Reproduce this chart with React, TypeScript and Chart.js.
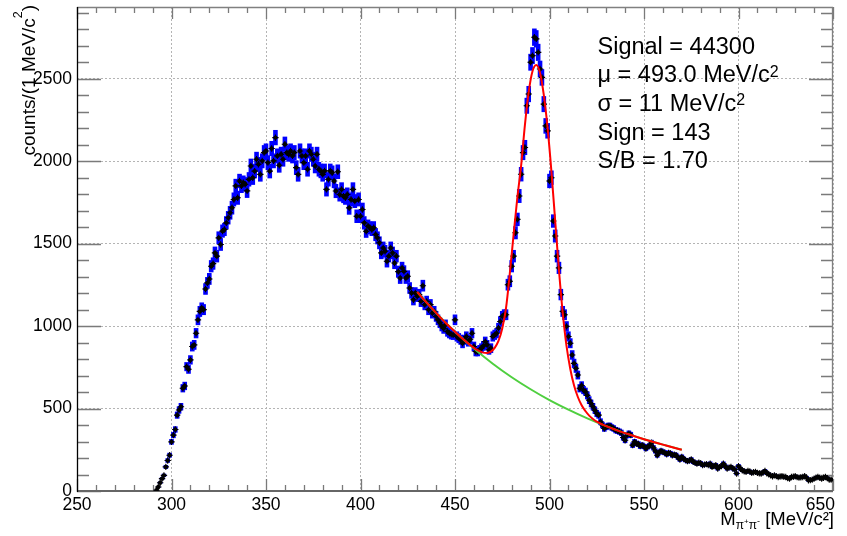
import React, { useEffect, useRef } from "react";
import { Chart, registerables } from "chart.js";

Chart.register(...registerables);

// ---------------- data ----------------
const MASS_START = 292; // first bin centre, MeV/c^2 (1 MeV bins)
const COUNTS = [
  5, 24, 50, 75, 95, 146, 185, 217,
  298, 339, 373, 460, 491, 511, 623, 637, 754, 738,
  795, 876, 886, 957, 1038, 1089, 1110, 1100, 1225, 1262,
  1286, 1363, 1379, 1444, 1424, 1535, 1495, 1576, 1586, 1626,
  1657, 1687, 1718, 1768, 1850, 1778, 1880, 1850, 1870, 1860,
  1820, 1890, 1971, 1900, 1940, 2012, 1981, 1920, 2002, 2052,
  2062, 1991, 1940, 2077, 2002, 2143, 2032, 1975, 2042, 2012,
  2103, 2052, 2042, 2062, 2032, 2052, 1961, 1920, 2062, 2032,
  1991, 2032, 1951, 2062, 2042, 2012, 1971, 2042, 1951, 1941,
  1920, 1941, 1829, 1890, 1941, 1930, 1880, 1819, 1936, 1798,
  1829, 1788, 1778, 1798, 1717, 1768, 1829, 1758, 1666, 1768,
  1666, 1707, 1626, 1575, 1606, 1596, 1586, 1596, 1555, 1535,
  1505, 1444, 1474, 1454, 1393, 1424, 1474, 1444, 1383, 1424,
  1330, 1292, 1353, 1332, 1292, 1302, 1231, 1201, 1160, 1201,
  1181, 1191, 1150, 1245, 1130, 1150, 1100, 1130, 1079, 1089,
  1059, 1038, 1020, 1000, 985, 1008, 967, 957, 950, 947,
  1038, 937, 927, 917, 896, 917, 937, 906, 920, 957,
  876, 846, 846, 856, 866, 880, 906, 886, 856, 866,
  937, 947, 957, 988, 1028, 1059, 1069, 1069, 1251, 1272,
  1363, 1424, 1566, 1647, 1789, 1921, 2052, 2083, 2336, 2407,
  2600, 2640, 2752, 2742, 2660, 2559, 2508, 2346, 2214, 2184,
  1880, 1900, 1637, 1546, 1424, 1353, 1191, 1089, 1069, 998,
  937, 896, 825, 774, 744, 703, 623, 640, 612, 602,
  580, 551, 531, 511, 490, 470, 460, 420, 400, 379,
  389, 394, 394, 385, 379, 369, 365, 360, 353, 324,
  308, 338, 348, 340, 278, 298, 288, 285, 272, 278,
  270, 258, 268, 275, 293, 262, 243, 217, 235, 243,
  237, 232, 223, 231, 228, 217, 220, 217, 203, 191,
  207, 195, 187, 181, 185, 191, 177, 172, 166, 171,
  168, 157, 160, 163, 158, 166, 146, 152, 157, 136,
  145, 151, 166, 150, 136, 142, 146, 136, 130, 106,
  151, 135, 126, 120, 116, 122, 118, 110, 114, 116,
  110, 108, 106, 112, 122, 108, 102, 95, 89, 95,
  90, 85, 88, 89, 86, 85, 78, 75, 85, 86,
  89, 84, 81, 83, 85, 89, 82, 65, 66, 69,
  75, 81, 85, 80, 75, 80, 85, 78, 69, 69,
];

// total fit (signal + background)
const TOTAL_FIT_X = [430, 435, 440, 445, 450, 455, 460, 463, 465, 467, 469, 471, 473, 475, 477, 479, 481, 483, 485, 487, 489, 491, 493, 495, 497, 499, 501, 503, 505, 507, 509, 511, 513, 515, 517, 519, 521, 523, 525, 530, 535, 540, 545, 550, 555, 560, 565, 570];
const TOTAL_FIT_Y = [1207, 1142, 1080, 1020, 966, 914, 868, 848, 839, 837, 845, 868, 910, 985, 1110, 1320, 1555, 1780, 1975, 2220, 2420, 2545, 2583, 2535, 2400, 2200, 1940, 1640, 1340, 1080, 880, 740, 640, 570, 520, 485, 457, 437, 421, 393, 371, 351, 332, 314, 297, 281, 265, 250];

// background fit
const BKG_FIT_X = [430, 440, 450, 460, 470, 480, 490, 500, 510, 520, 530, 540, 550, 560, 570];
const BKG_FIT_Y = [1207, 1080, 966, 864, 772, 690, 617, 551, 493, 440, 393, 351, 314, 281, 250];

const X_TICKS = [250, 300, 350, 400, 450, 500, 550, 600, 650];
const Y_TICKS = [0, 500, 1000, 1500, 2000, 2500];
const X_MIN = 250;
const X_MAX = 650;
const Y_MAX = 2935;

const STAT_NAMES = ["Signal", "\u03bc", "\u03c3", "Sign", "S/B"];
const STAT_VALUES = ["44300", "493.0", "11", "143", "1.70"];
const STAT_UNITS = ["", "MeV/c", "MeV/c", "", ""];

const FONT = '"Liberation Sans", Arial, Helvetica, sans-serif';

type Seg = { t: string; size: number; dy?: number };

function segWidth(ctx: CanvasRenderingContext2D, segs: Seg[]) {
  let w = 0;
  for (const s of segs) {
    ctx.font = `${s.size}px ${FONT}`;
    w += ctx.measureText(s.t).width;
  }
  return w;
}

function drawSegs(ctx: CanvasRenderingContext2D, segs: Seg[], x: number, y: number) {
  let cx = x;
  for (const s of segs) {
    ctx.font = `${s.size}px ${FONT}`;
    ctx.fillText(s.t, cx, y + (s.dy || 0));
    cx += ctx.measureText(s.t).width;
  }
}

export default function App() {
  const ref = useRef<HTMLCanvasElement>(null);

  useEffect(() => {
    document.body.style.margin = "0";
    document.body.style.overflow = "hidden";
    const canvas = ref.current;
    if (!canvas) return;

    const points = COUNTS.map((v, i) => ({ x: MASS_START + i, y: v }));
    const totalFit = TOTAL_FIT_X.map((x, i) => ({ x, y: TOTAL_FIT_Y[i] }));
    const bkgFit = BKG_FIT_X.map((x, i) => ({ x, y: BKG_FIT_Y[i] }));

    const framePlugin = {
      id: "frame",
      beforeDatasetsDraw(chart: any) {
        const { ctx, chartArea: a, scales } = chart;
        const xs = scales.x;
        const ys = scales.y;
        ctx.save();
        ctx.strokeStyle = "#7a7a7a";
        ctx.lineWidth = 1.3;
        ctx.beginPath();
        for (let v = X_MIN; v <= X_MAX; v += 10) {
          const px = Math.round(xs.getPixelForValue(v)) + 0.5;
          const len = v % 50 === 0 ? 12 : 6;
          ctx.moveTo(px, a.bottom);
          ctx.lineTo(px, a.bottom - len);
          ctx.moveTo(px, a.top);
          ctx.lineTo(px, a.top + len);
        }
        for (let v = 0; v <= Y_MAX; v += 100) {
          const py = Math.round(ys.getPixelForValue(v)) + 0.5;
          const len = v % 500 === 0 ? 24 : 12;
          ctx.moveTo(a.left, py);
          ctx.lineTo(a.left + len, py);
          ctx.moveTo(a.right, py);
          ctx.lineTo(a.right - len, py);
        }
        ctx.stroke();
        // frame
        ctx.strokeStyle = "#808080";
        ctx.lineWidth = 1.3;
        ctx.beginPath();
        ctx.moveTo(a.left, a.top + 0.5);
        ctx.lineTo(a.right, a.top + 0.5);
        ctx.moveTo(a.right - 0.5, a.top);
        ctx.lineTo(a.right - 0.5, a.bottom);
        ctx.stroke();
        ctx.strokeStyle = "#666";
        ctx.lineWidth = 2;
        ctx.beginPath();
        ctx.moveTo(a.left, a.bottom);
        ctx.lineTo(a.right, a.bottom);
        ctx.stroke();
        ctx.strokeStyle = "#000";
        ctx.lineWidth = 1.3;
        ctx.beginPath();
        ctx.moveTo(a.left + 0.5, a.top);
        ctx.lineTo(a.left + 0.5, a.bottom + 1);
        ctx.stroke();
        ctx.restore();
      },
    };

    const errorBarPlugin = {
      id: "errorBars",
      beforeDatasetsDraw(chart: any) {
        const { ctx, chartArea: a, scales } = chart;
        const xs = scales.x;
        const ys = scales.y;
        ctx.save();
        ctx.beginPath();
        ctx.rect(a.left, a.top, a.right - a.left, a.bottom - a.top);
        ctx.clip();
        ctx.fillStyle = "#0000ff";
        for (const p of points) {
          const e = Math.sqrt(p.y);
          const px = xs.getPixelForValue(p.x);
          const top = ys.getPixelForValue(p.y + e);
          const bot = ys.getPixelForValue(Math.max(0, p.y - e));
          ctx.fillRect(px - 2.3, top, 4.6, bot - top);
        }
        ctx.restore();
      },
    };

    const textPlugin = {
      id: "texts",
      afterDraw(chart: any) {
        const { ctx, scales } = chart;
        const xs = scales.x;
        const W = chart.width;
        ctx.save();
        ctx.fillStyle = "#000";
        ctx.textBaseline = "alphabetic";
        ctx.textAlign = "left";
        // x tick labels
        ctx.font = `17.5px ${FONT}`;
        X_TICKS.forEach((v) => {
          const lab = String(v);
          const w = ctx.measureText(lab).width;
          let cx = xs.getPixelForValue(v);
          if (cx + w / 2 > W - 12) cx = W - 12 - w / 2;
          ctx.fillText(lab, cx - w / 2, 510);
        });
        // x title
        const xt: Seg[] = [
          { t: "M", size: 18.5 },
          { t: "\u03c0", size: 12, dy: 4 },
          { t: "+", size: 8, dy: -1 },
          { t: "\u03c0", size: 12, dy: 4 },
          { t: "-", size: 9, dy: -1 },
          { t: " [MeV/c\u00b2]", size: 18.5 },
        ];
        const xw = segWidth(ctx, xt);
        drawSegs(ctx, xt, 834 - xw, 525);
        // y title (rotated)
        const yt: Seg[] = [
          { t: "counts/(1 MeV/c", size: 19 },
          { t: "2", size: 12.5, dy: -13 },
          { t: ")", size: 19 },
        ];
        const yw = segWidth(ctx, yt);
        ctx.save();
        ctx.translate(35, 5);
        ctx.rotate(-Math.PI / 2);
        drawSegs(ctx, yt, -yw, 0);
        ctx.restore();
        // stats box
        for (let i = 0; i < STAT_NAMES.length; i++) {
          const segs: Seg[] = [{ t: `${STAT_NAMES[i]} = ${STAT_VALUES[i]}${STAT_UNITS[i] ? " " + STAT_UNITS[i] : ""}`, size: 23.5 }];
          if (STAT_UNITS[i]) segs.push({ t: "2", size: 16, dy: -5.5 });
          drawSegs(ctx, segs, 597.5, 53.5 + i * 28.7);
        }
        ctx.restore();
      },
    };

    const chart = new Chart(canvas, {
      type: "scatter",
      data: {
        datasets: [
          {
            label: "total fit",
            data: totalFit,
            showLine: true,
            borderColor: "#ff0000",
            borderWidth: 2,
            pointRadius: 0,
            cubicInterpolationMode: "monotone",
            order: 0,
          } as any,
          {
            label: "background fit",
            data: bkgFit,
            showLine: true,
            borderColor: "#4fcf3f",
            borderWidth: 2,
            pointRadius: 0,
            cubicInterpolationMode: "monotone",
            order: 1,
          } as any,
          {
            label: "data cross",
            data: points,
            pointStyle: "cross",
            pointRadius: 3.2,
            borderColor: "#000",
            borderWidth: 1.1,
            order: 2,
          } as any,
          {
            label: "data",
            data: points,
            pointStyle: "circle",
            pointRadius: 2.2,
            backgroundColor: "#000",
            borderColor: "#000",
            borderWidth: 0,
            order: 3,
          } as any,
        ],
      },
      options: {
        responsive: false,
        animation: false,
        events: [],
        layout: { padding: { top: 7, right: 14, left: 0, bottom: 0 } },
        plugins: { legend: { display: false }, tooltip: { enabled: false } },
        scales: {
          x: {
            type: "linear",
            min: X_MIN,
            max: X_MAX,
            afterBuildTicks(s: any) {
              s.ticks = X_TICKS.map((v) => ({ value: v }));
            },
            afterFit(s: any) {
              s.height = 45;
              s.paddingLeft = 0;
              s.paddingRight = 0;
            },
            ticks: { display: false },
            grid: { color: "#b4b4b4", lineWidth: 1, drawTicks: false },
            border: { display: false, dash: [2, 2] },
          },
          y: {
            type: "linear",
            min: 0,
            max: Y_MAX,
            afterBuildTicks(s: any) {
              s.ticks = Y_TICKS.map((v) => ({ value: v }));
            },
            afterFit(s: any) {
              s.width = 77;
              s.paddingTop = 0;
              s.paddingBottom = 0;
            },
            ticks: {
              padding: 5,
              color: "#000",
              font: { family: FONT, size: 17.5 },
              callback: (v: any) => String(v),
            },
            grid: { color: "#b4b4b4", lineWidth: 1, drawTicks: false },
            border: { display: false, dash: [2, 2] },
          },
        },
      } as any,
      plugins: [framePlugin, errorBarPlugin, textPlugin],
    });

    return () => chart.destroy();
  }, []);

  return (
    <div style={{ width: 847, height: 536, background: "#fff" }}>
      <canvas ref={ref} width={847} height={536} style={{ display: "block", width: 847, height: 536 }} />
    </div>
  );
}
